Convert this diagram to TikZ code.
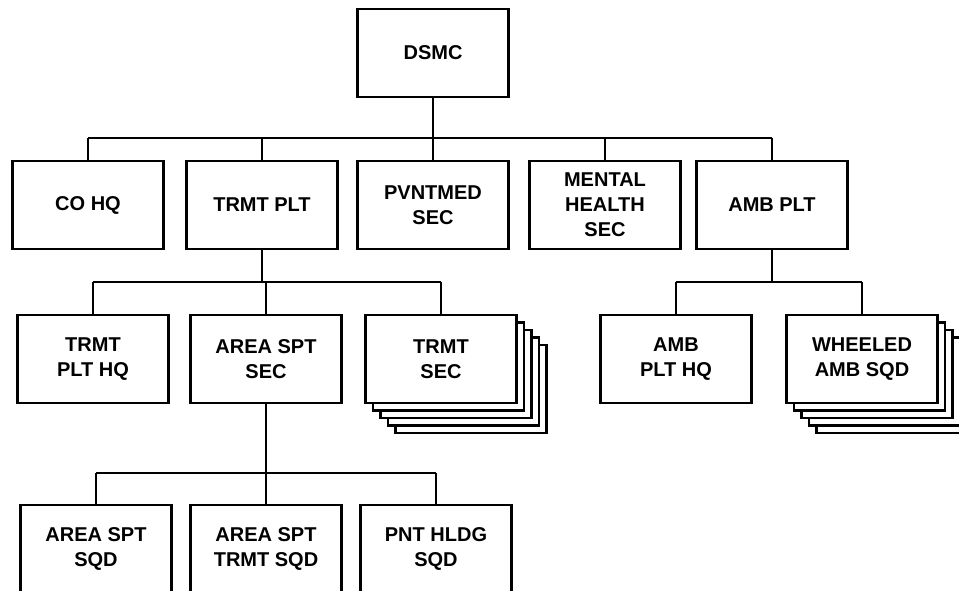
\documentclass[tikz,border=0pt]{standalone}
\usepackage{fontspec}
\setmainfont{Liberation Sans}
\usetikzlibrary{calc}

\begin{document}
\begin{tikzpicture}[x=0.5pt,y=-0.5pt,line width=1.1pt,
  unit/.style={draw,fill=white,line width=1.35pt,minimum width=75.5pt,minimum height=44pt,
    inner sep=0pt,align=center,font=\bfseries\fontsize{10}{12.5}\selectfont}]
  \useasboundingbox (0,0) rectangle (959,590);
  % company
  \node[unit] (dsmc) at (433,53) {DSMC};
  \node[unit] (cohq) at (88,205) {CO HQ};
  \node[unit] (trmtplt) at (262,205) {TRMT PLT};
  \node[unit] (pvnt) at (433,205) {PVNTMED\\SEC};
  \node[unit] (mental) at (605,205) {MENTAL\\HEALTH\\SEC};
  \node[unit] (ambplt) at (772,205) {AMB PLT};
  \coordinate (bus1) at (433,138);
  \draw (dsmc) -- (bus1);
  \draw (cohq.north |- bus1) -- (ambplt.north |- bus1);
  \foreach \n in {cohq,trmtplt,pvnt,mental,ambplt}
    \draw (\n.north) -- (\n.north |- bus1);
  % treatment platoon
  \coordinate (tsec) at (441,359);
  \foreach \i in {4,3,2,1}
    \draw[fill=white,line width=1.35pt] ($(tsec)+(\i*7.5,\i*7.5)+(-75.5,-44)$) rectangle ++(151,88);
  \node[unit] (trmthq) at (93,359) {TRMT\\PLT HQ};
  \node[unit] (areasec) at (266,359) {AREA SPT\\SEC};
  \node[unit] (trmtsec) at (tsec) {TRMT\\SEC};
  \coordinate (bus2) at (266,282);
  \draw (trmtplt) -- (trmtplt.south |- bus2);
  \draw (trmthq.north |- bus2) -- (trmtsec.north |- bus2);
  \foreach \n in {trmthq,areasec,trmtsec}
    \draw (\n.north) -- (\n.north |- bus2);
  % ambulance platoon
  \coordinate (wsqd) at (862,359);
  \foreach \i in {4,3,2,1}
    \draw[fill=white,line width=1.35pt] ($(wsqd)+(\i*7.5,\i*7.5)+(-75.5,-44)$) rectangle ++(151,88);
  \node[unit] (ambhq) at (676,359) {AMB\\PLT HQ};
  \node[unit] (wheeled) at (wsqd) {WHEELED\\AMB SQD};
  \coordinate (bus3) at (772,282);
  \draw (ambplt) -- (bus3);
  \draw (ambhq.north |- bus3) -- (wheeled.north |- bus3);
  \foreach \n in {ambhq,wheeled}
    \draw (\n.north) -- (\n.north |- bus3);
  % area support section
  \node[unit] (asqd) at (96,549) {AREA SPT\\SQD};
  \node[unit] (atsqd) at (266,549) {AREA SPT\\TRMT SQD};
  \node[unit] (phsqd) at (436,549) {PNT HLDG\\SQD};
  \coordinate (bus4) at (266,473);
  \draw (areasec) -- (atsqd);
  \draw (asqd.north |- bus4) -- (phsqd.north |- bus4);
  \foreach \n in {asqd,phsqd}
    \draw (\n.north) -- (\n.north |- bus4);
\end{tikzpicture}
\end{document}
